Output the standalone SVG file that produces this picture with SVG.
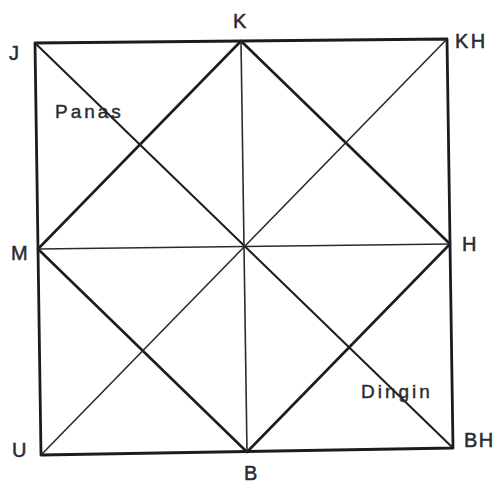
<svg xmlns="http://www.w3.org/2000/svg" width="498" height="485" viewBox="0 0 498 485">
<style>
.lbl{font-family:"Liberation Sans",Arial,sans-serif;font-size:20px;fill:#2a2a30;stroke:#2a2a30;stroke-width:0.5;}
.word{font-family:"Liberation Sans",Arial,sans-serif;font-size:19px;fill:#2a2a30;stroke:#2a2a30;stroke-width:0.4;letter-spacing:3px;}
.edge{stroke:#1c1c20;stroke-width:2.8;fill:none;stroke-linecap:round;stroke-linejoin:round;}
.dia{stroke:#1c1c20;stroke-width:2.6;fill:none;stroke-linejoin:round;}
.thin{stroke:#2a2a30;stroke-width:1.6;fill:none;}
.mid{stroke:#1c1c20;stroke-width:2;fill:none;}
</style>
<rect width="498" height="485" fill="#ffffff"/>
<g id="connectors">
<polygon class="edge" points="35,43 447,39 453,448 41,455"/>
<polygon class="dia" points="241,41 450,244 247,452 38,249"/>
<line class="mid" x1="35" y1="43" x2="453" y2="448"/>
<line class="thin" x1="41" y1="455" x2="447" y2="39"/>
<line class="thin" x1="38" y1="249" x2="450" y2="244"/>
<line class="thin" x1="241" y1="41" x2="247" y2="452"/>
</g>
<g id="node-J"><text class="lbl" x="9" y="60">J</text></g>
<g id="node-K"><text class="lbl" x="233" y="28">K</text></g>
<g id="node-KH"><text class="lbl" x="455" y="48" letter-spacing="2.5">KH</text></g>
<g id="node-M"><text class="lbl" x="11" y="260">M</text></g>
<g id="node-H"><text class="lbl" x="462" y="251">H</text></g>
<g id="node-U"><text class="lbl" x="12" y="457">U</text></g>
<g id="node-B"><text class="lbl" x="244" y="480">B</text></g>
<g id="node-BH"><text class="lbl" x="464" y="447" letter-spacing="1.5">BH</text></g>
<g id="label-Panas"><text class="word" x="55" y="118">Panas</text></g>
<g id="label-Dingin"><text class="word" x="361" y="398">Dingin</text></g>
</svg>
